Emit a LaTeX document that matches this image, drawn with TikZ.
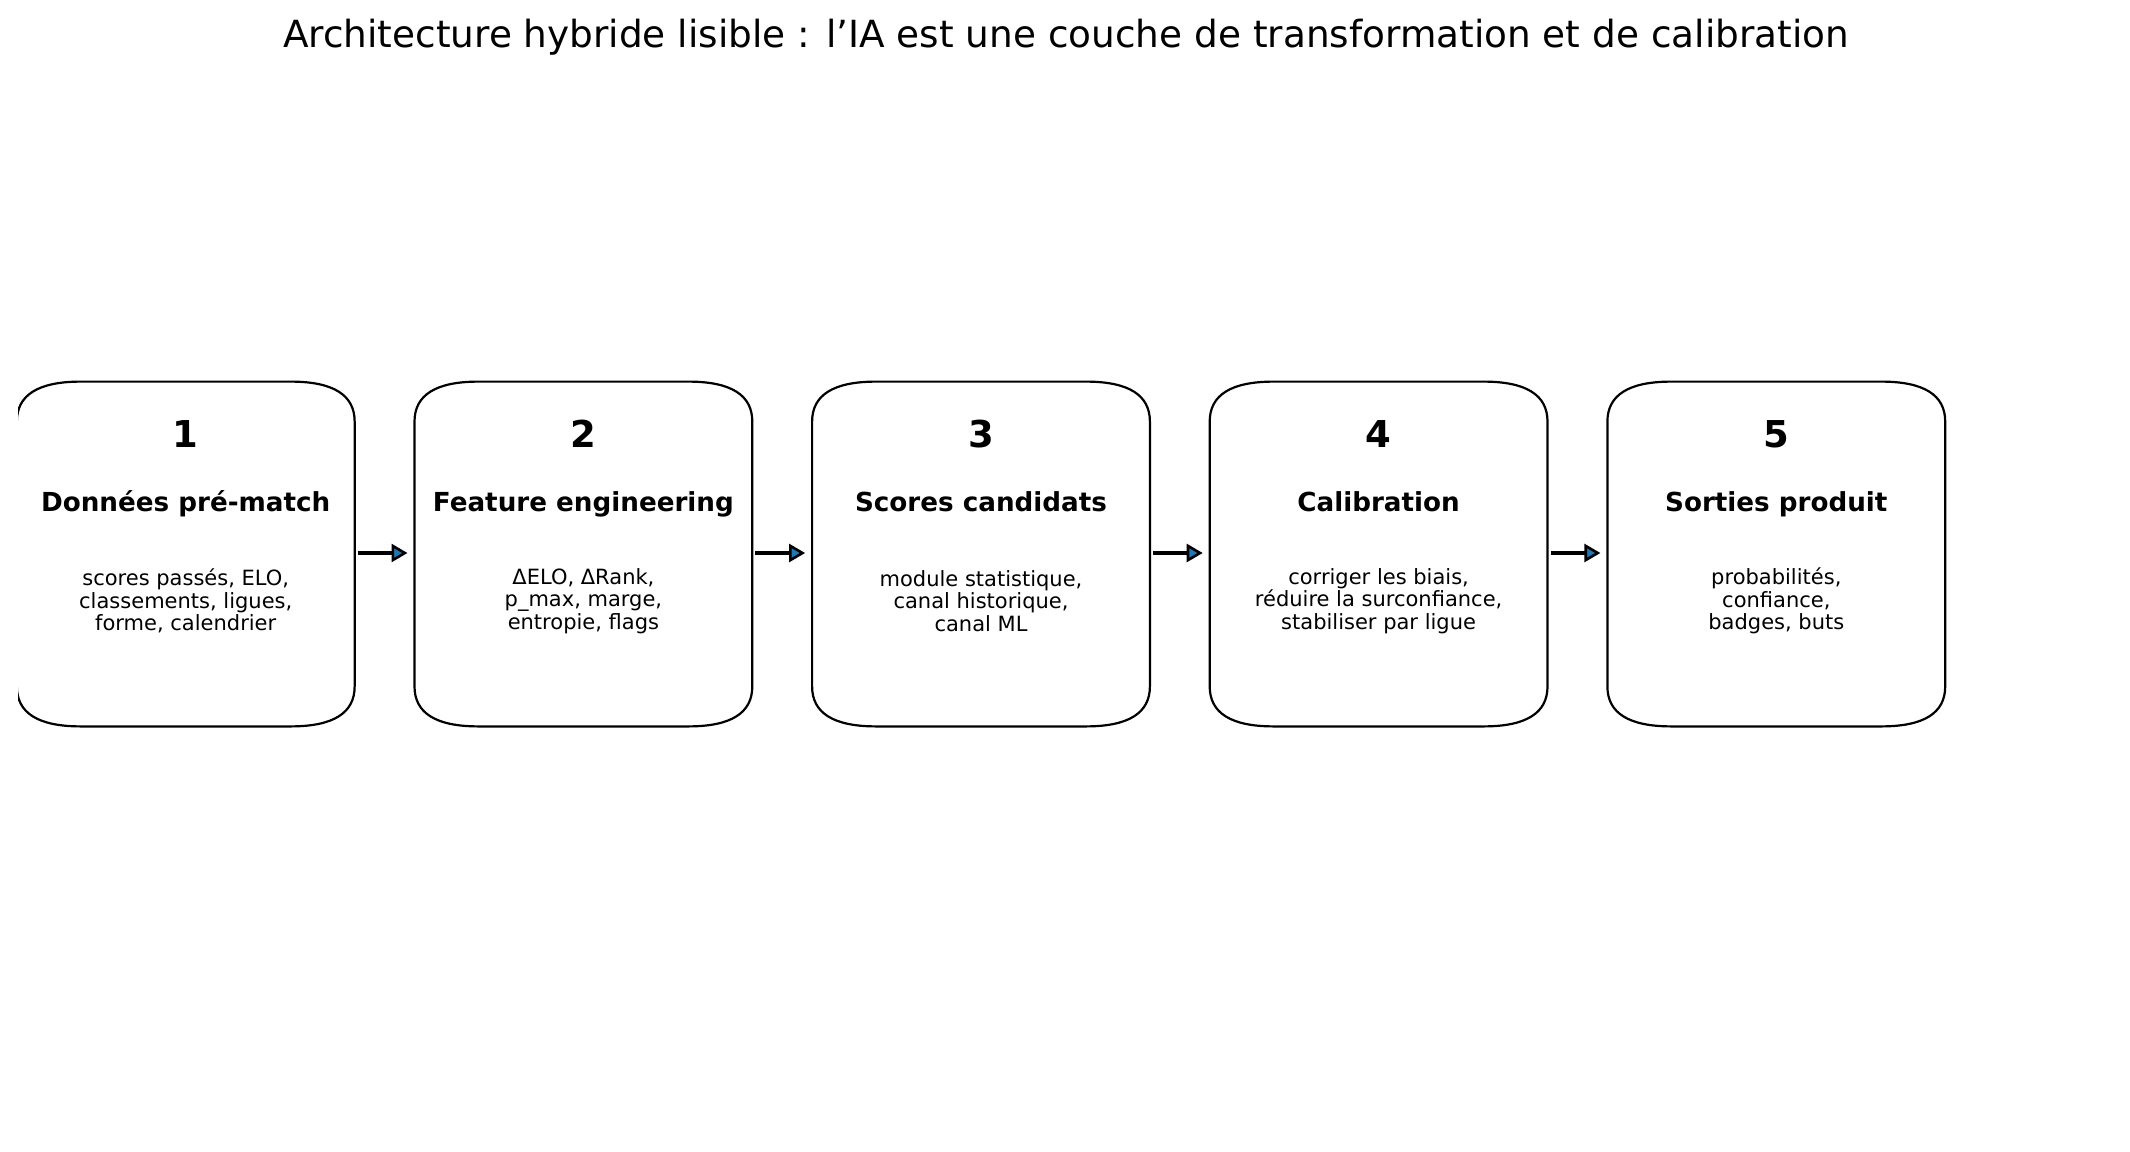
\documentclass[tikz,border=0pt]{standalone}
\usepackage{fontspec}
\setmainfont{DejaVu Sans}
\usetikzlibrary{arrows.meta,calc}
\definecolor{cblue}{HTML}{1F77B4}
\newcommand\rbox[1]{%
  \draw[boxline] ($(#1.north west)+(64,0)$) -- ($(#1.north east)+(-64,0)$)
    .. controls ($(#1.north east)+(-21.33,0)$) and ($(#1.north east)+(0,13.33)$) .. ($(#1.north east)+(0,40)$)
    -- ($(#1.south east)+(0,-40)$)
    .. controls ($(#1.south east)+(0,-13.33)$) and ($(#1.south east)+(-21.33,0)$) .. ($(#1.south east)+(-64,0)$)
    -- ($(#1.south west)+(64,0)$)
    .. controls ($(#1.south west)+(21.33,0)$) and ($(#1.south west)+(0,-13.33)$) .. ($(#1.south west)+(0,-40)$)
    -- ($(#1.north west)+(0,40)$)
    .. controls ($(#1.north west)+(0,13.33)$) and ($(#1.north west)+(21.33,0)$) .. cycle;}
\begin{document}
\begin{tikzpicture}[x=0.5pt,y=-0.5pt,
  boxline/.style={line width=1.1pt,black},
  stage/.style={minimum width=168.5pt,minimum height=172pt,inner sep=0pt,draw=none},
  num/.style={font=\bfseries\fontsize{18.5}{22}\selectfont,anchor=base,inner sep=0pt},
  head/.style={font=\bfseries\fontsize{13.1}{15.7}\selectfont,anchor=base,inner sep=0pt},
  body/.style={font=\fontsize{10.5}{11.3}\selectfont,align=center,inner sep=0pt},
  arr/.style={line width=1.6pt,-{Triangle[length=8pt,width=9pt,line width=1.3pt,fill=cblue]}}]
\useasboundingbox (0,0) rectangle (2130,1151);
\node[font=\fontsize{18.7}{22}\selectfont,inner sep=0pt] (title) at (1066,37)
  {Architecture hybride lisible : l’IA est une couche de transformation et de calibration};
\foreach \i/\x/\h/\b in {
  1/185.75/{Données pré-match}/{scores passés, ELO,\\classements, ligues,\\forme, calendrier},
  2/583.4/{Feature engineering}/{ΔELO, ΔRank,\\p\_max, marge,\\entropie, flags},
  3/981.0/{Scores candidats}/{module statistique,\\canal historique,\\canal ML},
  4/1378.6/{Calibration}/{corriger les biais,\\réduire la surconfiance,\\stabiliser par ligue},
  5/1776.3/{Sorties produit}/{probabilités,\\confiance,\\badges, buts}}{
  \node[stage] (b\i) at (\x,554) {};
  \node[num] (n\i) at (\x,447) {\i};
  \node[head] (h\i) at (\x,511) {\h};
  \node[body] (t\i) at (\x,601) {\b};
}
\begin{scope}
  \clip (18,0) rectangle (2130,1151);
  \rbox{b1}
\end{scope}
\rbox{b2}\rbox{b3}\rbox{b4}\rbox{b5}
\foreach \a/\b in {1/2,2/3,3/4,4/5}{
  \draw[arr] ([xshift=1.5pt,yshift=0.5pt]b\a.east) -- ([xshift=-3.5pt,yshift=0.5pt]b\b.west);
}
\end{tikzpicture}
\end{document}
